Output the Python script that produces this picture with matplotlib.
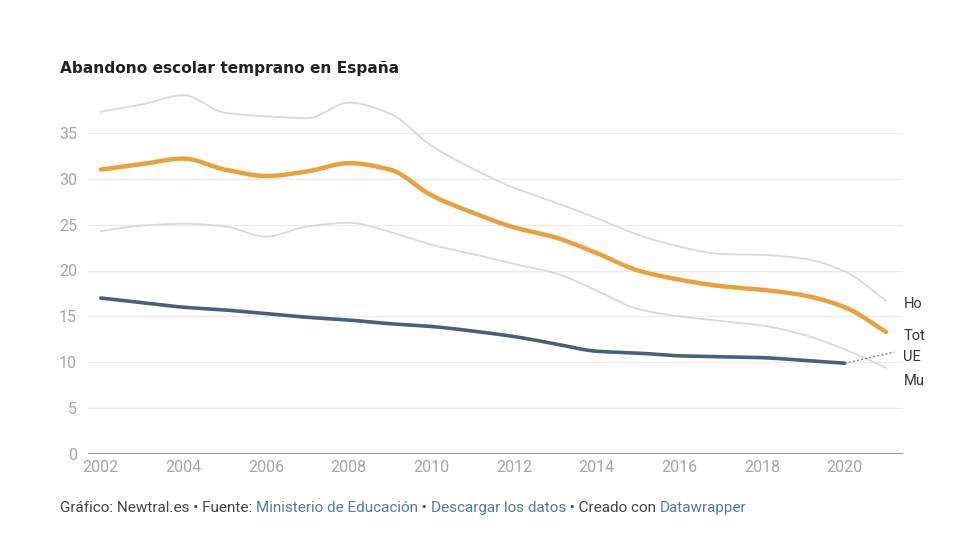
import numpy as np
import matplotlib.pyplot as plt

# datos (% abandono escolar temprano)
years = np.arange(2002, 2022)
total = [31.0, 31.6, 32.2, 31.0, 30.3, 30.8, 31.7, 31.0, 28.2, 26.3,
         24.7, 23.6, 21.9, 20.0, 19.0, 18.3, 17.9, 17.3, 16.0, 13.3]
hombres = [37.3, 38.1, 39.1, 37.2, 36.8, 36.6, 38.3, 37.1, 33.6, 31.1,
           29.0, 27.4, 25.7, 23.9, 22.6, 21.8, 21.7, 21.3, 19.9, 16.7]
mujeres = [24.3, 24.9, 25.1, 24.8, 23.7, 24.8, 25.2, 24.2, 22.8, 21.8,
           20.7, 19.7, 17.8, 15.8, 15.0, 14.5, 14.0, 13.0, 11.4, 9.4]
ue_years = np.arange(2002, 2021)
ue = [17.0, 16.5, 16.0, 15.7, 15.3, 14.9, 14.6, 14.2, 13.9, 13.4,
      12.8, 12.0, 11.2, 11.0, 10.7, 10.6, 10.5, 10.2, 9.9]
ue_label_y = 11.1

yticks = [0, 5, 10, 15, 20, 25, 30, 35]
xticks = list(range(2002, 2021, 2))

ORANGE = '#e9a23b'
NAVY = '#4b5f78'
LIGHT = '#d9d9d9'
BLUE_LINK = '#4f7f9b'
TXT = '#444444'


def monotone(x, y, n=30):
    # curva monótona tipo curveMonotoneX (interpolación Hermite)
    x = np.asarray(x, float)
    y = np.asarray(y, float)
    h = np.diff(x)
    d = np.diff(y) / h
    m = np.zeros_like(y)
    m[0], m[-1] = d[0], d[-1]
    for k in range(1, len(y) - 1):
        if d[k - 1] * d[k] > 0:
            w1 = 2 * h[k] + h[k - 1]
            w2 = h[k] + 2 * h[k - 1]
            m[k] = (w1 + w2) / (w1 / d[k - 1] + w2 / d[k])
    xs, ys = [], []
    for k in range(len(x) - 1):
        t = np.linspace(0, 1, n, endpoint=False)
        h00 = 2 * t**3 - 3 * t**2 + 1
        h10 = t**3 - 2 * t**2 + t
        h01 = -2 * t**3 + 3 * t**2
        h11 = t**3 - t**2
        xs.append(x[k] + t * h[k])
        ys.append(h00 * y[k] + h10 * h[k] * m[k] + h01 * y[k + 1] + h11 * h[k] * m[k + 1])
    xs.append([x[-1]])
    ys.append([y[-1]])
    return np.concatenate(xs), np.concatenate(ys)


plt.rcParams['font.family'] = ['Roboto', 'DejaVu Sans']

fig = plt.figure(figsize=(9.6, 5.54), dpi=100)
ax = fig.add_axes([88 / 960, 1 - 454 / 554, (903 - 88) / 960, (454 - 87) / 554])

for s in ax.spines.values():
    s.set_visible(False)
ax.set_xlim(2001.69, 2021.41)
ax.set_ylim(0, 40)

for v in yticks[1:]:
    ax.axhline(v, color='#ececec', lw=1, zorder=0)
ax.axhline(0, color='#8a8a8a', lw=2, zorder=1)

ax.set_yticks(yticks)
ax.set_xticks(xticks)
ax.tick_params(length=0, labelsize=11.5, labelcolor='#a5a5a5')
ax.tick_params(axis='y', pad=8)
ax.tick_params(axis='x', pad=4)

xs, ys = monotone(years, hombres)
ax.plot(xs, ys, color=LIGHT, lw=1.3, zorder=2)
xs, ys = monotone(years, mujeres)
ax.plot(xs, ys, color=LIGHT, lw=1.3, zorder=2)
xs, ys = monotone(ue_years, ue)
ax.plot(xs, ys, color=NAVY, lw=2.6, solid_capstyle='round', zorder=3)
ax.plot([ue_years[-1], 2021.2], [ue[-1], ue_label_y], color='#7a8794',
        lw=1, ls=(0, (1.5, 1.5)), zorder=3)
xs, ys = monotone(years, total)
ax.plot(xs, ys, color=ORANGE, lw=3.2, solid_capstyle='round', zorder=4)

# etiquetas a la derecha
for lab, yv in [('Ho', 16.3), ('Tot', 12.9), ('UE', 10.6), ('Mu', 8.0)]:
    ax.text(2021.42, yv, lab, fontsize=10.5, color='#333333', va='center',
            ha='left', clip_on=False)

fig.text(60 / 960, 1 - 68 / 554, 'Abandono escolar temprano en España',
         fontsize=11.1, fontweight='bold', color='#222222', va='center',
         family='DejaVu Sans')

# pie de gráfico
parts = [('Gráfico: Newtral.es • Fuente: ', TXT),
         ('Ministerio de Educación', BLUE_LINK),
         (' • ', TXT),
         ('Descargar los datos', BLUE_LINK),
         (' • Creado con ', TXT),
         ('Datawrapper', BLUE_LINK)]
r = fig.canvas.get_renderer()
xpix = 60
for txt, col in parts:
    t = fig.text(xpix / 960, 1 - 508 / 554, txt, fontsize=11, color=col, va='center')
    xpix += t.get_window_extent(renderer=r).width

fig.savefig('out.png', dpi=100, facecolor='white')
